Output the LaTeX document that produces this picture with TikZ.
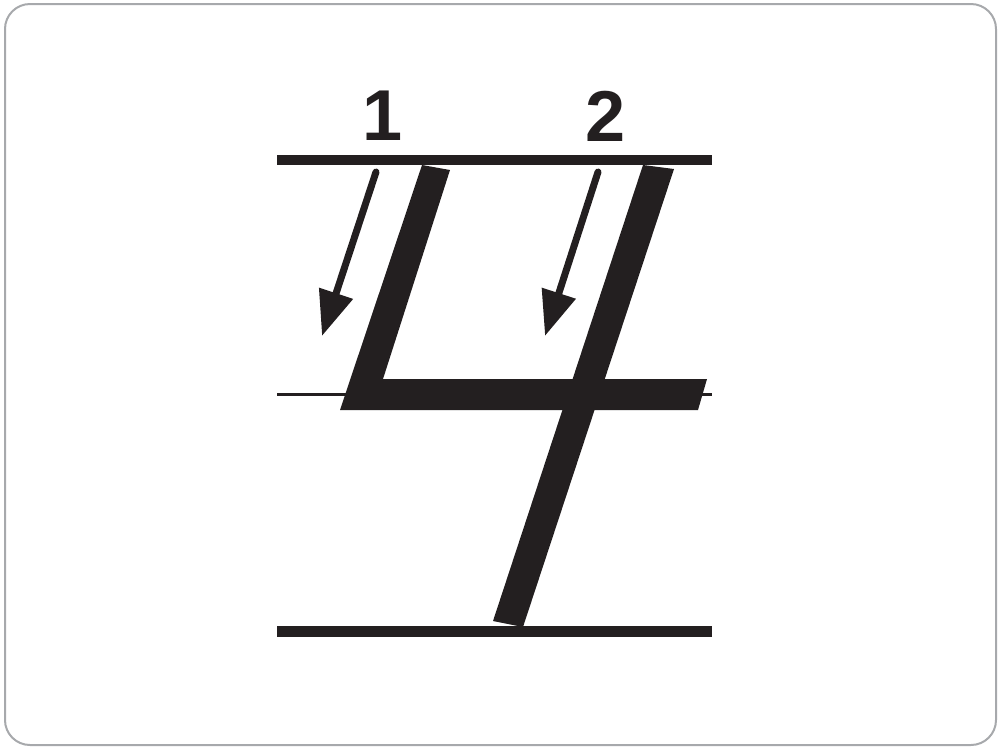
\documentclass[tikz,border=0pt]{standalone}
\usepackage{fontspec}
\setmainfont{Liberation Sans}
\usetikzlibrary{arrows.meta}
\definecolor{ink}{HTML}{231F20}
\definecolor{rim}{HTML}{A7A9AC}
\begin{document}
\begin{tikzpicture}[x=0.2mm,y=-0.2mm,line cap=round,line join=round,font=\fontsize{41}{41}\selectfont\bfseries]
	\useasboundingbox (0,0) rectangle (1000,748);
	\draw[rim,line width=0.4mm,rounded corners=5mm] (5,4) rectangle (996,745);
	\foreach \y/\w in {160/2mm,631/2.2mm,394/0.6mm}{\draw[ink,line width=\w,line cap=butt] (277,\y) -- (712,\y);}
	\fill[ink] (422,165) -- (450,170) -- (383,379) -- (707,379) -- (698,410) -- (340,410) -- cycle;
	\fill[ink] (643,165) -- (674,169) -- (523,627) -- (493,621) -- cycle;
	\foreach \k/\xa/\xb/\xl in {1/376/322/383,2/598/545/606}{
		\node[ink] (num\k) at (\xl,116) {\k};
		\draw[ink,line width=1.4mm,-{Triangle[length=9mm,width=6.8mm]}] (\xa,172) -- (\xb,336);}
\end{tikzpicture}
\end{document}
